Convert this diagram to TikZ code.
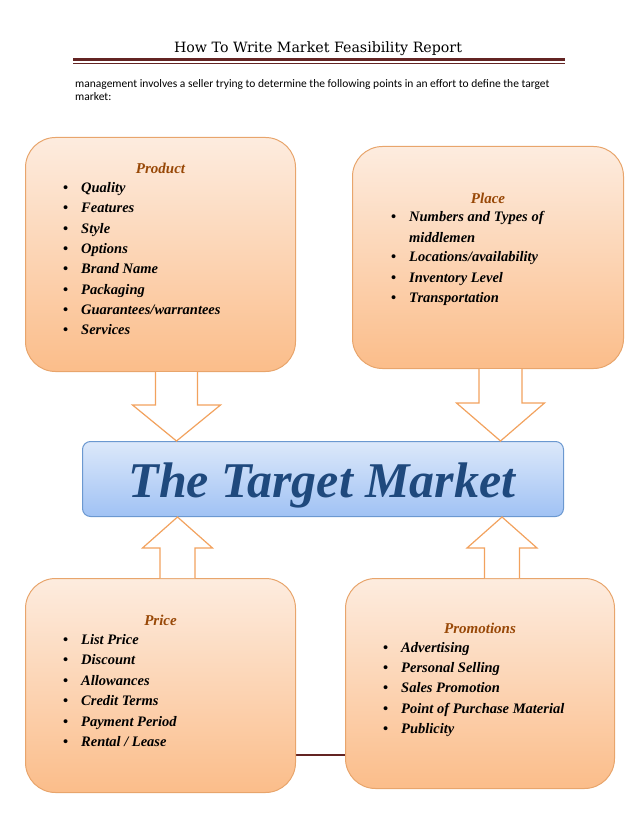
\documentclass[tikz,border=0pt]{standalone}
\usepackage{fontspec}
\setmainfont{Liberation Serif}
\newfontfamily\hdfont{Carlito}
\newfontfamily\pgfont{DejaVu Serif}
\usetikzlibrary{calc}

\definecolor{rulered}{HTML}{632423}
\definecolor{boxtop}{HTML}{FDECDF}
\definecolor{boxbot}{HTML}{FBBD8A}
\definecolor{boxline}{HTML}{E8A56C}
\definecolor{arrline}{HTML}{F2A25E}
\definecolor{ttlbrown}{HTML}{984807}
\definecolor{tgttop}{HTML}{DCE8FA}
\definecolor{tgtbot}{HTML}{A0C2F4}
\definecolor{tgtline}{HTML}{6B98D0}
\definecolor{tgttext}{HTML}{1F497D}

% hollow block arrow: start, tip, shaft half width, head half width, head length
\newcommand{\fatarrow}[5]{%
  \draw[fat] let \p1=(#1), \p2=(#2), \n1={sign(\y2-\y1)} in
    (\x1-#3,\y1) -- (\x1-#3,\y2-\n1*#5) -- (\x1-#4,\y2-\n1*#5) -- (\x2,\y2)
    -- (\x1+#4,\y2-\n1*#5) -- (\x1+#3,\y2-\n1*#5) -- (\x1+#3,\y1);}
\newcommand{\bul}{\llap{\upshape\textbullet\hspace{13pt}}}

\begin{document}
\begin{tikzpicture}[x=1pt, y=-1pt,
	mixbox/.style={draw=boxline, line width=1pt, rounded corners=30pt, top color=boxtop, bottom color=boxbot, inner sep=0pt},
	tgtbox/.style={draw=tgtline, line width=1pt, rounded corners=8pt, top color=tgttop, bottom color=tgtbot, inner sep=0pt},
	ttl/.style={font=\fontsize{15}{18}\selectfont\bfseries\itshape, text=ttlbrown},
	item/.style={font=\fontsize{14.5}{17}\selectfont\bfseries\itshape, anchor=west, inner sep=0pt, text height=10pt, text depth=3pt},
	fat/.style={draw=arrline, line width=1.2pt, fill=white, line join=miter}]
	\useasboundingbox (0,0) rectangle (638,826);
	% page header and footer rules
	\node[font=\pgfont\fontsize{14.2}{17}\selectfont, anchor=base] (head) at (318,53) {How To Write Market Feasibility Report};
	\draw[rulered, line width=3pt] (73,60) -- (565,60);
	\draw[rulered, line width=0.8pt] (73,63) -- (565,63);
	\draw[rulered, line width=2pt] (73,755) -- (565,755);
	\node[font=\hdfont\fontsize{11.5}{13}\selectfont, anchor=base west, align=left, inner sep=0pt] (intro) at (75,101)
		{management involves a seller trying to determine the following points in an effort to define the target\\market:};

	% the four mix boxes and the target
	\node[mixbox, minimum width=270pt, minimum height=234pt, anchor=north west] (prod) at (25,137) {};
	\node[mixbox, minimum width=271pt, minimum height=222pt, anchor=north west] (place) at (352,146) {};
	\node[mixbox, minimum width=270pt, minimum height=214pt, anchor=north west] (price) at (25,578) {};
	\node[mixbox, minimum width=269pt, minimum height=210pt, anchor=north west] (promo) at (345,578) {};
	\node[tgtbox, minimum width=481pt, minimum height=75pt, anchor=north west] (tgt) at (82,441) {};
	\node[font=\fontsize{50}{52}\selectfont\bfseries\itshape, text=tgttext, anchor=base] (tgttxt) at (322,497) {The Target Market};

	% arrows into the target
	\coordinate (a1) at ($(prod.south)+(16,0)$);
	\coordinate (a1t) at (a1 |- tgt.north);
	\coordinate (a2) at ($(place.south)+(12.5,0)$);
	\coordinate (a2t) at (a2 |- tgt.north);
	\coordinate (a3) at ($(price.north)+(17,0)$);
	\coordinate (a3t) at (a3 |- tgt.south);
	\coordinate (a4) at ($(promo.north)+(22,0)$);
	\coordinate (a4t) at (a4 |- tgt.south);
	\fatarrow{a1}{a1t}{21pt}{44pt}{36pt}
	\fatarrow{a2}{a2t}{21.5pt}{44pt}{38pt}
	\fatarrow{a3}{a3t}{17.5pt}{35pt}{31pt}
	\fatarrow{a4}{a4t}{17.5pt}{35pt}{31pt}

	% box contents
	\node[ttl] (prodttl) at ($(prod.north)+(0,31)$) {Product};
	\foreach \t [count=\i from 0] in {Quality, Features, Style, Options, Brand Name, Packaging, Guarantees/warrantees, Services}
		\node[item] (prod\i) at ($(prod.north west)+(56,52+20.3*\i)$) {\bul\t};

	\node[ttl] (placettl) at ($(place.north)+(0,52)$) {Place};
	\node[item] (place0) at ($(place.north west)+(57,72)$) {\bul Numbers and Types of};
	\node[item] (place0b) at ($(place.north west)+(57,93)$) {middlemen};
	\foreach \t [count=\i] in {Locations/availability, Inventory Level, Transportation}
		\node[item] (place\i) at ($(place.north west)+(57,92+20.3*\i)$) {\bul\t};

	\node[ttl] (pricettl) at ($(price.north)+(0,42)$) {Price};
	\foreach \t [count=\i from 0] in {List Price, Discount, Allowances, Credit Terms, Payment Period, Rental / Lease}
		\node[item] (price\i) at ($(price.north west)+(56,63+20.4*\i)$) {\bul\t};

	\node[ttl] (promottl) at ($(promo.north)+(0,50)$) {Promotions};
	\foreach \t [count=\i from 0] in {Advertising, Personal Selling, Sales Promotion, Point of Purchase Material, Publicity}
		\node[item] (promo\i) at ($(promo.north west)+(56,71+20.2*\i)$) {\bul\t};
\end{tikzpicture}
\end{document}
